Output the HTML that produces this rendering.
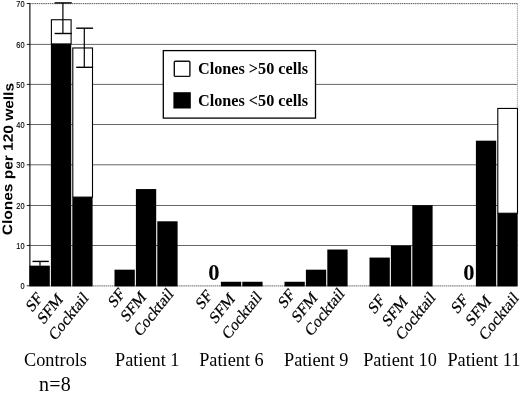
<!DOCTYPE html><html><head><meta charset="utf-8"><title>Clones per 120 wells</title>
<style>html,body{margin:0;padding:0;background:#fff}svg{display:block}.s{font-family:"Liberation Serif",serif}.a{font-family:"Liberation Sans",sans-serif}</style></head><body>
<svg width="520" height="393" viewBox="0 0 520 393">
<rect width="520" height="393" fill="#fff"/>
<line x1="30" x2="517.5" y1="245.50" y2="245.50" stroke="#555" stroke-width="0.9"/>
<line x1="30" x2="517.5" y1="205.50" y2="205.50" stroke="#555" stroke-width="0.9"/>
<line x1="30" x2="517.5" y1="164.80" y2="164.80" stroke="#555" stroke-width="0.9"/>
<line x1="30" x2="517.5" y1="124.50" y2="124.50" stroke="#555" stroke-width="0.9"/>
<line x1="30" x2="517.5" y1="84.40" y2="84.40" stroke="#555" stroke-width="0.9"/>
<line x1="30" x2="517.5" y1="44.40" y2="44.40" stroke="#555" stroke-width="0.9"/>
<line x1="30" x2="517.5" y1="3.63" y2="3.63" stroke="#555" stroke-width="1" stroke-dasharray="1.5 0.7"/>
<line x1="517.4" x2="517.4" y1="3.63" y2="285.8" stroke="#999" stroke-width="1" stroke-dasharray="1.2 0.8"/>
<line x1="30" x2="517.5" y1="285.90000000000003" y2="285.90000000000003" stroke="#666" stroke-width="1" stroke-dasharray="1.5 0.6"/>
<line x1="29.9" x2="29.9" y1="3.63" y2="285.8" stroke="#000" stroke-width="1.1"/>
<line x1="26.8" x2="30" y1="285.80" y2="285.80" stroke="#222" stroke-width="1"/>
<text class="a" transform="translate(24.5,288.90) scale(0.84,1)" font-size="8.8" text-anchor="end" fill="#000" stroke="#000" stroke-width="0.15">0</text>
<line x1="26.8" x2="30" y1="245.50" y2="245.50" stroke="#222" stroke-width="1"/>
<text class="a" transform="translate(24.5,248.60) scale(0.84,1)" font-size="8.8" text-anchor="end" fill="#000" stroke="#000" stroke-width="0.15">10</text>
<line x1="26.8" x2="30" y1="205.50" y2="205.50" stroke="#222" stroke-width="1"/>
<text class="a" transform="translate(24.5,208.60) scale(0.84,1)" font-size="8.8" text-anchor="end" fill="#000" stroke="#000" stroke-width="0.15">20</text>
<line x1="26.8" x2="30" y1="164.80" y2="164.80" stroke="#222" stroke-width="1"/>
<text class="a" transform="translate(24.5,167.90) scale(0.84,1)" font-size="8.8" text-anchor="end" fill="#000" stroke="#000" stroke-width="0.15">30</text>
<line x1="26.8" x2="30" y1="124.50" y2="124.50" stroke="#222" stroke-width="1"/>
<text class="a" transform="translate(24.5,127.60) scale(0.84,1)" font-size="8.8" text-anchor="end" fill="#000" stroke="#000" stroke-width="0.15">40</text>
<line x1="26.8" x2="30" y1="84.40" y2="84.40" stroke="#222" stroke-width="1"/>
<text class="a" transform="translate(24.5,87.50) scale(0.84,1)" font-size="8.8" text-anchor="end" fill="#000" stroke="#000" stroke-width="0.15">50</text>
<line x1="26.8" x2="30" y1="44.40" y2="44.40" stroke="#222" stroke-width="1"/>
<text class="a" transform="translate(24.5,47.50) scale(0.84,1)" font-size="8.8" text-anchor="end" fill="#000" stroke="#000" stroke-width="0.15">60</text>
<line x1="26.8" x2="30" y1="3.50" y2="3.50" stroke="#222" stroke-width="1"/>
<text class="a" transform="translate(24.5,6.60) scale(0.84,1)" font-size="8.8" text-anchor="end" fill="#000" stroke="#000" stroke-width="0.15">70</text>
<rect x="29.50" y="265.65" width="20.30" height="20.75" fill="#000"/>
<rect x="51.40" y="19.75" width="19.70" height="24.19" fill="#fff" stroke="#000" stroke-width="1.1"/>
<rect x="50.90" y="43.94" width="20.30" height="242.46" fill="#000"/>
<rect x="72.80" y="47.97" width="19.70" height="149.15" fill="#fff" stroke="#000" stroke-width="1.1"/>
<rect x="72.30" y="197.12" width="20.30" height="89.28" fill="#000"/>
<rect x="114.50" y="269.68" width="20.30" height="16.72" fill="#000"/>
<rect x="135.90" y="189.06" width="20.30" height="97.34" fill="#000"/>
<rect x="157.30" y="221.30" width="20.30" height="65.10" fill="#000"/>
<rect x="220.90" y="281.77" width="20.30" height="4.63" fill="#000"/>
<rect x="242.30" y="281.77" width="20.30" height="4.63" fill="#000"/>
<rect x="284.50" y="281.77" width="20.30" height="4.63" fill="#000"/>
<rect x="305.90" y="269.68" width="20.30" height="16.72" fill="#000"/>
<rect x="327.30" y="249.52" width="20.30" height="36.88" fill="#000"/>
<rect x="369.50" y="257.58" width="20.30" height="28.82" fill="#000"/>
<rect x="390.90" y="245.49" width="20.30" height="40.91" fill="#000"/>
<rect x="412.30" y="205.18" width="20.30" height="81.22" fill="#000"/>
<rect x="475.90" y="140.68" width="20.30" height="145.72" fill="#000"/>
<rect x="497.80" y="108.44" width="19.70" height="104.81" fill="#fff" stroke="#000" stroke-width="1.1"/>
<rect x="497.30" y="213.24" width="20.30" height="73.16" fill="#000"/>
<line x1="40.0" x2="40.0" y1="261.41" y2="265.65" stroke="#000" stroke-width="1.2"/>
<line x1="32.5" x2="48.8" y1="261.41" y2="261.41" stroke="#000" stroke-width="1.4"/>
<line x1="62.9" x2="62.9" y1="2.90" y2="33.50" stroke="#000" stroke-width="1.2"/>
<line x1="54.6" x2="71.8" y1="2.90" y2="2.90" stroke="#000" stroke-width="1.4"/>
<line x1="54.6" x2="71.8" y1="33.50" y2="33.50" stroke="#000" stroke-width="1.4"/>
<line x1="84.3" x2="84.3" y1="28.20" y2="67.32" stroke="#000" stroke-width="1.2"/>
<line x1="76.2" x2="93.1" y1="28.20" y2="28.20" stroke="#000" stroke-width="1.4"/>
<line x1="76.2" x2="93.1" y1="67.32" y2="67.32" stroke="#000" stroke-width="1.4"/>
<text class="s" x="213.9" y="280.3" font-size="22.6" font-weight="bold" text-anchor="middle">0</text>
<text class="s" x="469" y="280.3" font-size="22.6" font-weight="bold" text-anchor="middle">0</text>
<rect x="163.3" y="50.6" width="152.2" height="67.5" fill="#fff" stroke="#000" stroke-width="1.3"/>
<rect x="174.3" y="61.2" width="15.6" height="15.2" rx="1" fill="#fff" stroke="#111" stroke-width="1.4"/>
<rect x="173.4" y="92.2" width="17.4" height="16.3" fill="#000"/>
<text class="s" x="198.0" y="74.3" font-size="16.2" font-weight="bold">Clones &gt;50 cells</text>
<text class="s" x="198.0" y="105.5" font-size="16.2" font-weight="bold">Clones &lt;50 cells</text>
<text class="a" transform="translate(11.9,235.2) rotate(-89.4) scale(1,0.885)" font-size="15.48" font-weight="bold">Clones per 120 wells</text>
<text class="s" stroke="#000" stroke-width="0.25" transform="translate(43.15,299.0) scale(0.84,1) rotate(-46.5)" font-size="17.4" text-anchor="end">SF</text>
<text class="s" stroke="#000" stroke-width="0.25" transform="translate(63.55,300.0) scale(0.84,1) rotate(-46.5)" font-size="17.4" text-anchor="end">SFM</text>
<text class="s" stroke="#000" stroke-width="0.25" transform="translate(88.95,298.7) scale(0.84,1) rotate(-46.5)" font-size="17.4" text-anchor="end">Cocktail</text>
<text class="s" stroke="#000" stroke-width="0.25" transform="translate(125.35,294.7) scale(0.84,1) rotate(-46.5)" font-size="17.4" text-anchor="end">SF</text>
<text class="s" stroke="#000" stroke-width="0.25" transform="translate(146.75,297.8) scale(0.84,1) rotate(-46.5)" font-size="17.4" text-anchor="end">SFM</text>
<text class="s" stroke="#000" stroke-width="0.25" transform="translate(173.95,294.7) scale(0.84,1) rotate(-46.5)" font-size="17.4" text-anchor="end">Cocktail</text>
<text class="s" stroke="#000" stroke-width="0.25" transform="translate(212.85,296.5) scale(0.84,1) rotate(-46.5)" font-size="17.4" text-anchor="end">SF</text>
<text class="s" stroke="#000" stroke-width="0.25" transform="translate(235.55,299.6) scale(0.84,1) rotate(-46.5)" font-size="17.4" text-anchor="end">SFM</text>
<text class="s" stroke="#000" stroke-width="0.25" transform="translate(262.25,297.8) scale(0.84,1) rotate(-46.5)" font-size="17.4" text-anchor="end">Cocktail</text>
<text class="s" stroke="#000" stroke-width="0.25" transform="translate(295.35,295.5) scale(0.84,1) rotate(-46.5)" font-size="17.4" text-anchor="end">SF</text>
<text class="s" stroke="#000" stroke-width="0.25" transform="translate(317.85,298.5) scale(0.84,1) rotate(-46.5)" font-size="17.4" text-anchor="end">SFM</text>
<text class="s" stroke="#000" stroke-width="0.25" transform="translate(345.15,294.5) scale(0.84,1) rotate(-46.5)" font-size="17.4" text-anchor="end">Cocktail</text>
<text class="s" stroke="#000" stroke-width="0.25" transform="translate(385.45,301.0) scale(0.84,1) rotate(-46.5)" font-size="17.4" text-anchor="end">SF</text>
<text class="s" stroke="#000" stroke-width="0.25" transform="translate(408.25,302.4) scale(0.84,1) rotate(-46.5)" font-size="17.4" text-anchor="end">SFM</text>
<text class="s" stroke="#000" stroke-width="0.25" transform="translate(435.95,298.5) scale(0.84,1) rotate(-46.5)" font-size="17.4" text-anchor="end">Cocktail</text>
<text class="s" stroke="#000" stroke-width="0.25" transform="translate(468.55,300.7) scale(0.84,1) rotate(-46.5)" font-size="17.4" text-anchor="end">SF</text>
<text class="s" stroke="#000" stroke-width="0.25" transform="translate(491.75,301.9) scale(0.84,1) rotate(-46.5)" font-size="17.4" text-anchor="end">SFM</text>
<text class="s" stroke="#000" stroke-width="0.25" transform="translate(519.25,298.8) scale(0.84,1) rotate(-46.5)" font-size="17.4" text-anchor="end">Cocktail</text>
<text class="s" x="24.0" y="365.9" font-size="18.3">Controls</text>
<text class="s" x="115" y="365.9" font-size="18.3">Patient 1</text>
<text class="s" x="199.2" y="365.9" font-size="18.3">Patient 6</text>
<text class="s" x="284" y="365.9" font-size="18.3">Patient 9</text>
<text class="s" x="363.2" y="365.9" font-size="18.3">Patient 10</text>
<text class="s" x="447.4" y="365.9" font-size="18.3">Patient 11</text>
<text class="s" x="39" y="391.2" font-size="20" letter-spacing="0.25">n=8</text>
</svg></body></html>
